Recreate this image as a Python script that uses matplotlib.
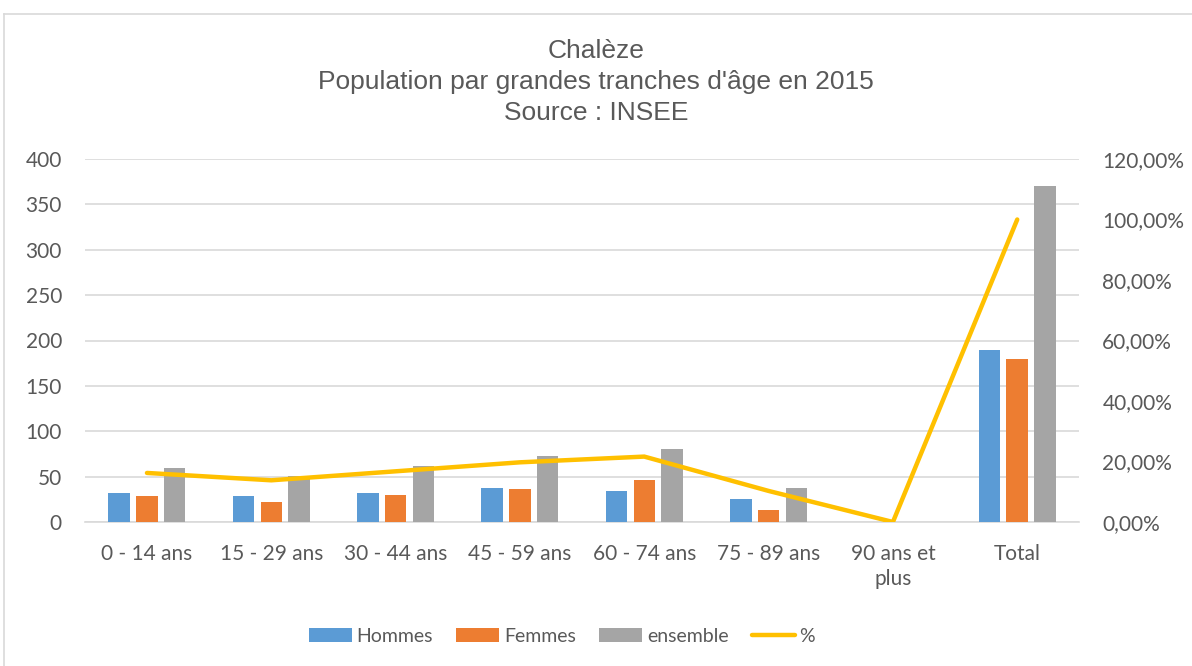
import matplotlib
matplotlib.use("Agg")
import matplotlib.pyplot as plt
from matplotlib.ticker import FuncFormatter, MultipleLocator
import numpy as np

categories = ["0 - 14 ans", "15 - 29 ans", "30 - 44 ans", "45 - 59 ans",
              "60 - 74 ans", "75 - 89 ans", "90 ans et\nplus", "Total"]
hommes = [32, 29, 32, 37, 34, 25, 0, 190]
femmes = [29, 22, 30, 36, 46, 13, 0, 180]
ensemble = [60, 51, 62, 73, 80, 38, 0, 370]
pct = [e / ensemble[-1] for e in ensemble]

c_h = "#5B9BD5"
c_f = "#ED7D31"
c_e = "#A5A5A5"
c_p = "#FFC000"
grid_c = "#D9D9D9"
txt_c = "#595959"
lbl_font = "Lato"
title_font = "Liberation Sans"
lbl_size = 15

fig = plt.figure(figsize=(11.92, 6.66), dpi=100)
fig.patch.set_facecolor("white")

# chart frame (top and left edges visible)
fig.add_artist(plt.Line2D([4 / 1192, 4 / 1192], [0, 1 - 14 / 666],
                          transform=fig.transFigure, color=grid_c, lw=1.2))
fig.add_artist(plt.Line2D([4 / 1192, 1], [1 - 14 / 666, 1 - 14 / 666],
                          transform=fig.transFigure, color=grid_c, lw=1.2))

left, right = 84.8 / 1192, 1079.4 / 1192
bottom, top = 1 - 522 / 666, 1 - 159 / 666
ax = fig.add_axes([left, bottom, right - left, top - bottom])

x = np.arange(len(categories))
step = 0.223
w = 0.173
ax.bar(x - step, hommes, w, color=c_h, label="Hommes", zorder=3)
ax.bar(x, femmes, w, color=c_f, label="Femmes", zorder=3)
ax.bar(x + step, ensemble, w, color=c_e, label="ensemble", zorder=3)

ax.set_xlim(-0.5, len(categories) - 0.5)
ax.set_ylim(0, 400)
ax.yaxis.set_major_locator(MultipleLocator(50))
ax.grid(axis="y", color=grid_c, lw=1.2, zorder=0)
ax.set_axisbelow(True)
for s in ["top", "right", "left"]:
    ax.spines[s].set_visible(False)
ax.spines["bottom"].set_color(grid_c)
ax.spines["bottom"].set_linewidth(1.2)
ax.set_xticks(x)
ax.set_xticklabels(categories, fontfamily=lbl_font, fontsize=lbl_size, color=txt_c,
                   linespacing=1.3)
ax.tick_params(axis="x", length=0, pad=16)
ax.tick_params(axis="y", length=0, pad=16.5, labelsize=lbl_size, labelcolor=txt_c)
for t in ax.get_yticklabels():
    t.set_fontfamily(lbl_font)

ax2 = ax.twinx()
ax2.plot(x, pct, color=c_p, lw=3.2, solid_capstyle="round",
         solid_joinstyle="miter", label="%", zorder=5)
ax2.set_ylim(0, 1.2)
ax2.yaxis.set_major_locator(MultipleLocator(0.2))
ax2.yaxis.set_major_formatter(FuncFormatter(lambda v, p: f"{v * 100:.2f}%".replace(".", ",")))
for s in ["top", "right", "left", "bottom"]:
    ax2.spines[s].set_visible(False)
ax2.tick_params(axis="y", length=0, pad=16.5, labelsize=lbl_size, labelcolor=txt_c)
for t in ax2.get_yticklabels():
    t.set_fontfamily(lbl_font)

fig.text(0.5, 1 - 82 / 666,
         "Chalèze\nPopulation par grandes tranches d'âge en 2015\nSource : INSEE",
         ha="center", va="center", fontfamily=title_font, fontsize=19,
         color=txt_c, linespacing=1.36)

h1, l1 = ax.get_legend_handles_labels()
h2, l2 = ax2.get_legend_handles_labels()
leg = fig.legend(h1 + h2, l1 + l2, loc="center", bbox_to_anchor=(562 / 1192, 1 - 636 / 666),
                 ncol=4, frameon=False, handlelength=2.2, handleheight=0.7,
                 columnspacing=1.2, handletextpad=0.25,
                 prop={"family": lbl_font, "size": 14})
for t in leg.get_texts():
    t.set_color(txt_c)

fig.savefig("out.png", dpi=100, facecolor="white")
